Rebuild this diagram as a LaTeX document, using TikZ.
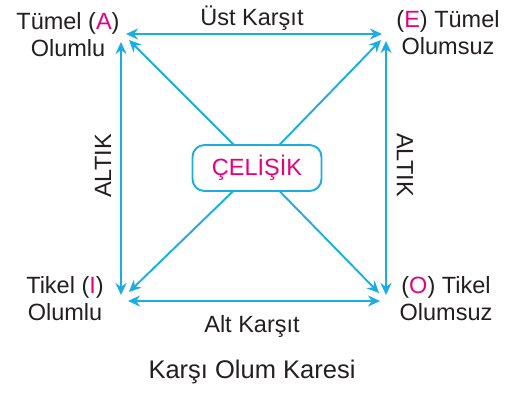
\documentclass[tikz,border=0pt]{standalone}
\usepackage{fontspec}
\setmainfont{Liberation Sans}
\usetikzlibrary{arrows.meta, positioning}
\definecolor{kareblue}{HTML}{1AADE4}
\definecolor{karepink}{HTML}{E6007E}
\definecolor{karetext}{HTML}{231F20}
\newcommand{\harf}[1]{\textcolor{karepink}{#1}}

\begin{document}
\begin{tikzpicture}[x=1pt, y=-1pt,
    ciftok/.style={draw=kareblue, line width=1.9pt, {Stealth[length=12pt, width=11pt]}-{Stealth[length=12pt, width=11pt]}},
    tekok/.style={draw=kareblue, line width=1.9pt, -{Stealth[length=12pt, width=11pt]}},
    etiket/.style={text=karetext, font=\fontsize{23.5}{27}\selectfont, align=center, inner sep=0pt}]
    \useasboundingbox (0,0) rectangle (519,392);

    \coordinate (A) at (121,34);
    \coordinate (E) at (386,34);
    \coordinate (I) at (121,301);
    \coordinate (O) at (386,301);
    \coordinate (merkez) at (257,168);

    \draw[tekok] (merkez) -- ([shift={(8pt,-6pt)}]A);
    \draw[tekok] (merkez) -- ([shift={(-5pt,-6pt)}]E);
    \draw[tekok] (merkez) -- ([shift={(8pt,9pt)}]I);
    \draw[tekok] (merkez) -- ([shift={(-7pt,8pt)}]O);
    \node[draw=kareblue, line width=1.9pt, fill=white, rounded corners=12pt, minimum width=129pt, minimum height=46pt, text=karepink, font=\fontsize{23.5}{27}\selectfont] (celiski) at (merkez) {ÇELİŞİK};

    \draw[ciftok] ([xshift=5pt]A) -- ([xshift=-4pt]E);
    \draw[ciftok] ([xshift=7pt]I) -- ([xshift=-6pt]O);
    \draw[ciftok] ([yshift=-8pt]A) -- ([yshift=6pt]I);
    \draw[ciftok] ([yshift=-7pt]E) -- ([yshift=6pt]O);

    \node[etiket] (tumelA) at (68,35) {Tümel (\harf{A})\\Olumlu};
    \node[etiket] (tumelE) at (448,33) {(\harf{E}) Tümel\\Olumsuz};
    \node[etiket] (tikelI) at (65,298.5) {Tikel (\harf{I})\\Olumlu};
    \node[etiket] (tikelO) at (446,298.5) {(\harf{O}) Tikel\\Olumsuz};

    \node[etiket, anchor=base] (ustkarsit) at (252,25) {Üst Karşıt};
    \node[etiket, anchor=base] (altkarsit) at (252,332) {Alt Karşıt};
    \node[etiket, rotate=90] (altikA) at (103,166) {ALTIK};
    \node[etiket, rotate=-90] (altikE) at (405,165) {ALTIK};
    \node[etiket, font=\fontsize{25.5}{30}\selectfont, below=46pt of altkarsit.base, anchor=base] (baslik) {Karşı Olum Karesi};
\end{tikzpicture}
\end{document}
